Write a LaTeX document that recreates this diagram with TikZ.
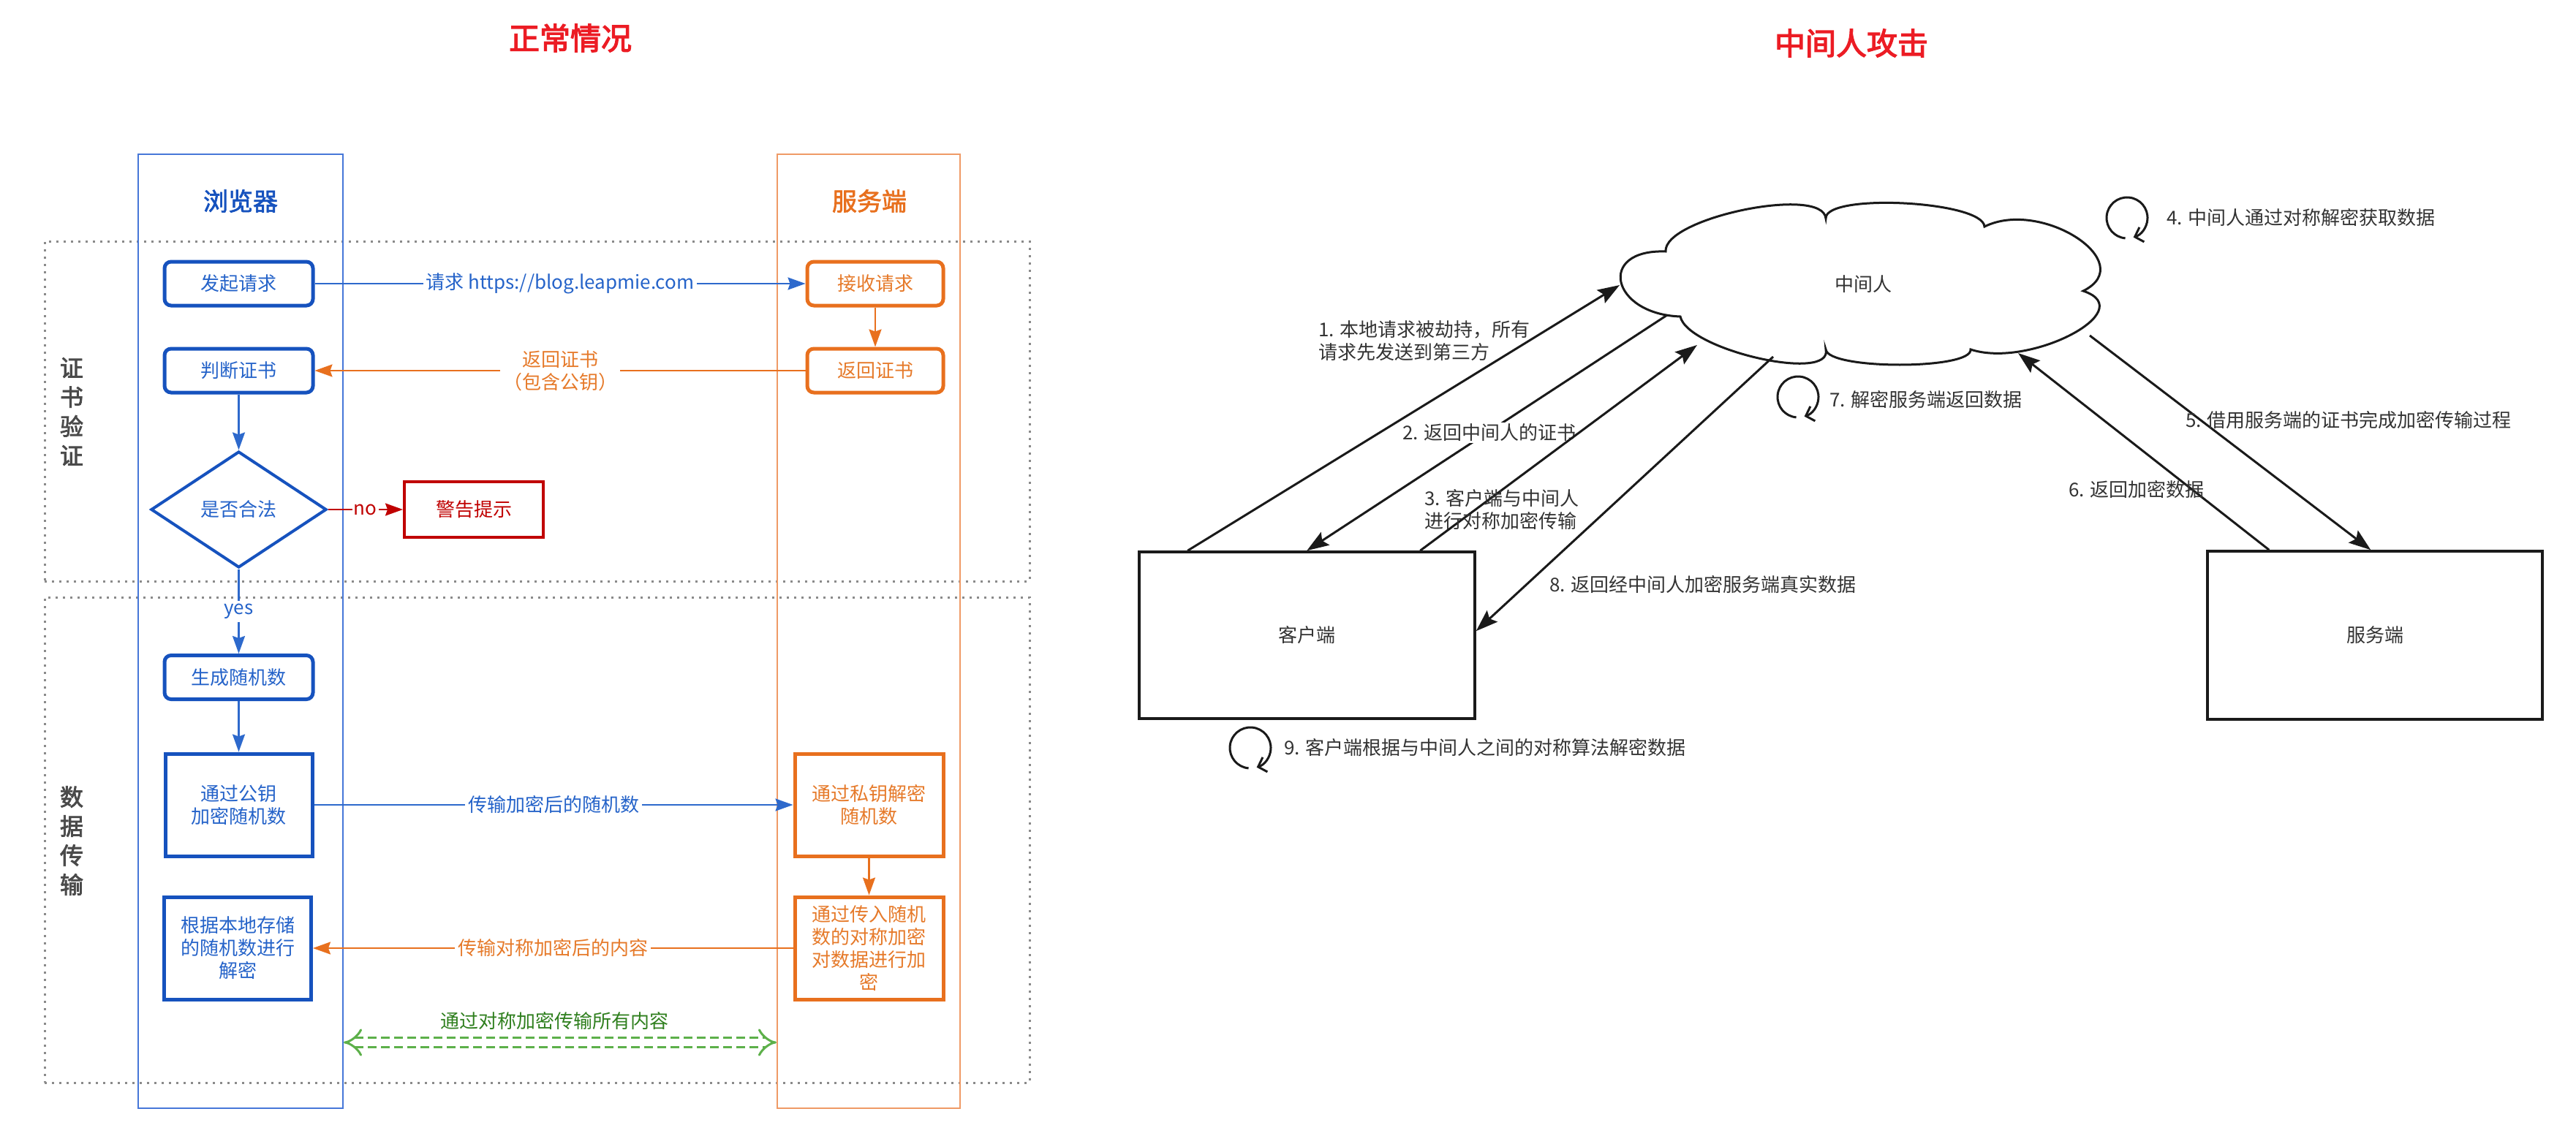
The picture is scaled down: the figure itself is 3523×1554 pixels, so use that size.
\documentclass[tikz,border=0pt]{standalone}
\usepackage{fontspec}
\setmainfont{Noto Sans CJK SC}
\usetikzlibrary{arrows.meta,shapes.geometric,calc}

\definecolor{laneblue}{HTML}{4677D8}
\definecolor{boxblue}{HTML}{1652BE}
\definecolor{txtblue}{HTML}{2563C9}
\definecolor{arrblue}{HTML}{2D69CC}
\definecolor{laneorange}{HTML}{EF9A66}
\definecolor{boxorange}{HTML}{E8701E}
\definecolor{txtorange}{HTML}{E67A2A}
\definecolor{warnred}{HTML}{C00000}
\definecolor{titlered}{HTML}{EC1C24}
\definecolor{sectgray}{HTML}{8A8A8A}
\definecolor{labelgray}{HTML}{4A4A4A}
\definecolor{txtgreen}{HTML}{2F7F1E}
\definecolor{dashgreen}{HTML}{5DB04A}
\definecolor{ink}{HTML}{1A1A1A}
\definecolor{inktext}{HTML}{333333}

\tikzset{
  txt/.style={font=\fontsize{26}{31}\selectfont, inner sep=0pt, align=center},
  bigtitle/.style={font=\fontsize{42}{48}\selectfont\addfontfeatures{FakeBold=3}, text=titlered, inner sep=0pt},
  lanetitle/.style={font=\fontsize{34}{40}\selectfont\addfontfeatures{FakeBold=2}, inner sep=0pt},
  sectlabel/.style={font=\fontsize{32}{40}\selectfont\addfontfeatures{FakeBold=2.5}, text=labelgray, inner sep=0pt, align=center},
  sectionbox/.style={draw=sectgray, line width=3pt, dash pattern=on 3pt off 7pt, rectangle, inner sep=0pt},
  lane/.style={draw=#1, line width=2pt, rectangle, inner sep=0pt},
  rbox/.style={txt, draw=boxblue, text=txtblue, line width=5pt, rounded corners=9pt,
               minimum width=203pt, minimum height=60pt},
  obox/.style={txt, draw=boxorange, text=txtorange, line width=5pt, rounded corners=9pt,
               minimum width=186pt, minimum height=60pt},
  sbox/.style={txt, draw=boxblue, text=txtblue, line width=5pt,
               minimum width=201pt, minimum height=140pt},
  osbox/.style={txt, draw=boxorange, text=txtorange, line width=5pt,
               minimum width=203pt, minimum height=140pt},
  lbl/.style={txt, fill=white, inner sep=4pt},
  bflow/.style={draw=arrblue, line width=2.2pt, -{Stealth[length=24pt,width=17pt,inset=3pt]}},
  oflow/.style={draw=boxorange, line width=2.2pt, -{Stealth[length=24pt,width=17pt,inset=3pt]}},
  rflow/.style={draw=warnred, line width=2.2pt, -{Stealth[length=24pt,width=17pt,inset=3pt]}},
  symarrow/.style={draw=dashgreen, line width=3pt, double=white, double distance=10pt,
               dash pattern=on 12pt off 6pt, {Implies}-{Implies}},
  rnode/.style={txt, text=inktext, draw=ink, line width=3.5pt, rectangle},
  mline/.style={draw=ink, line width=3pt, -{Stealth[length=30pt,width=21pt,inset=5pt]}},
  rlabel/.style={txt, text=inktext, anchor=west, align=left},
  cycle/.style={draw=ink, line width=3pt, -{Straight Barb[length=10pt,width=21pt]}}
}

\begin{document}
\begin{tikzpicture}[x=1pt,y=1pt]
\useasboundingbox (0,0) rectangle (3523,-1554);
\fill[white] (0,0) rectangle (3523,-1554);

% ---------- titles ----------
\node[bigtitle] (tnormal) at (780,-52) {正常情况};
\node[bigtitle] (tattack) at (2532,-59) {中间人攻击};

% ---------- left: HTTPS handshake ----------
\node[sectionbox, minimum width=1347pt, minimum height=465pt] (sec1) at (734.5,-562.5) {};
\node[sectionbox, minimum width=1347pt, minimum height=664pt] (sec2) at (734.5,-1149) {};
\node[sectlabel] (lbl1) at (98,-563) {证\\书\\验\\证};
\node[sectlabel] (lbl2) at (98,-1150) {数\\据\\传\\输};

\node[lane=laneblue, minimum width=280pt, minimum height=1305pt] (blane) at (329,-863.5) {};
\node[lane=laneorange, minimum width=250pt, minimum height=1305pt] (slane) at (1188,-863.5) {};
\node[lanetitle, text=boxblue] (btitle) at (329,-275) {浏览器};
\node[lanetitle, text=boxorange] (stitle) at (1189,-275) {服务端};

\node[rbox] (req) at (326.5,-388) {发起请求};
\node[rbox] (judge) at (326.5,-507) {判断证书};
\node[obox] (recv) at (1197,-388) {接收请求};
\node[obox] (ret) at (1197,-507) {返回证书};
\node[diamond, txt, draw=boxblue, text=txtblue, line width=4pt,
      minimum width=240pt, minimum height=159pt] (legal) at (326.5,-697) {是否合法};
\node[txt, draw=warnred, text=warnred, line width=4pt,
      minimum width=190pt, minimum height=76pt] (warn) at (648,-697) {警告提示};
\node[rbox] (gen) at (326.5,-926.5) {生成随机数};
\node[sbox] (enc) at (326.5,-1101) {通过公钥\\加密随机数};
\node[sbox] (local) at (325,-1297) {根据本地存储\\的随机数进行\\解密};
\node[osbox] (dec) at (1188.5,-1101) {通过私钥解密\\随机数};
\node[osbox] (sym) at (1188.5,-1297) {通过传入随机\\数的对称加密\\对数据进行加\\密};

\draw[bflow] (req) -- node[lbl, text=txtblue] {请求 https://blog.leapmie.com} (recv);
\draw[oflow] (recv) -- (ret);
\draw[oflow] (ret) -- node[lbl, text=txtorange] {返回证书\\（包含公钥）} (judge);
\draw[bflow] (judge) -- (legal);
\draw[rflow] (legal) -- node[lbl, text=warnred, inner sep=2pt] {no} (warn);
\draw[bflow] (legal) -- node[lbl, text=txtblue] {yes} (gen);
\draw[bflow] (gen) -- (enc);
\draw[bflow] (enc) -- node[lbl, text=txtblue] {传输加密后的随机数} (dec);
\draw[oflow] (dec) -- (sym);
\draw[oflow] (sym) -- node[lbl, text=txtorange] {传输对称加密后的内容} (local);

\node[txt, text=txtgreen] (glabel) at (758,-1397) {通过对称加密传输所有内容};
\coordinate (gl) at (blane.east |- 0,-1426);
\coordinate (gr) at (slane.west |- 0,-1426);
\draw[symarrow] (gl) -- (gr);

% ---------- right: man in the middle ----------
\draw[draw=ink, line width=3pt, fill=white]
  (2278,-344) .. controls (2274.7,-298) and (2493.7,-253) .. (2497,-299)
              .. controls (2495,-263.7) and (2712,-274.7) .. (2714,-310)
              .. controls (2792,-271.3) and (2927,-359.3) .. (2849,-398)
              .. controls (2929,-424.7) and (2775,-504.7) .. (2695,-478)
              .. controls (2697.7,-506) and (2499.7,-506) .. (2497,-478)
              .. controls (2507,-524) and (2308,-479) .. (2298,-433)
              .. controls (2203.3,-429.7) and (2183.3,-340.7) .. (2278,-344) -- cycle;
\node[txt, text=inktext] (mitm) at (2548,-389) {中间人};

\node[rnode, minimum width=459pt, minimum height=228pt] (client) at (1787.5,-869) {客户端};
\node[rnode, minimum width=458pt, minimum height=230pt] (server) at (3248,-869) {服务端};

\coordinate (m1) at (2215,-390);
\coordinate (m2) at (2280,-431);
\coordinate (m3) at (2321,-472);
\coordinate (m8) at (2425,-488);
\coordinate (m5) at (2858,-459);
\coordinate (m6) at (2760,-483);
\coordinate (c1) at ($(client.north west)+(68,0)$);
\coordinate (c2) at ($(client.north west)+(231,0)$);
\coordinate (c3) at ($(client.north west)+(386,0)$);
\coordinate (c8) at ($(client.north east)+(0,-110)$);
\coordinate (s5) at ($(server.north west)+(225,0)$);
\coordinate (s6) at ($(server.north west)+(86,0)$);

\draw[mline] (c1) -- (m1);
\draw[mline] (m2) -- (c2);
\node[rlabel, fill=white, inner sep=2pt] (l2) at (1916,-592) {2. 返回中间人的证书};
\draw[mline] (c3) -- (m3);
\draw[mline] (m8) -- (c8);
\draw[mline] (m5) -- (s5);
\draw[mline] (s6) -- (m6);

\node[rlabel] (l1) at (1803,-466.5) {1. 本地请求被劫持，所有\\请求先发送到第三方};
\node[rlabel] (l3) at (1948,-697.5) {3. 客户端与中间人\\进行对称加密传输};
\node[rlabel] (l8) at (2119,-800) {8. 返回经中间人加密服务端真实数据};
\node[rlabel] (l7) at (2502,-547) {7. 解密服务端返回数据};
\node[rlabel] (l4) at (2963,-298) {4. 中间人通过对称解密获取数据};
\node[rlabel] (l5) at (2989,-575) {5. 借用服务端的证书完成加密传输过程};
\node[rlabel] (l6) at (2829,-670) {6. 返回加密数据};
\node[rlabel] (l9) at (1756,-1023) {9. 客户端根据与中间人之间的对称算法解密数据};

% self-processing loops
\coordinate (loop4) at (2909,-298);
\coordinate (loop7) at (2459,-543);
\coordinate (loop9) at (1710,-1023);
\draw[cycle] (loop4) ++(265:28) arc[start angle=265, end angle=-72, radius=28];
\draw[cycle] (loop7) ++(265:28) arc[start angle=265, end angle=-72, radius=28];
\draw[cycle] (loop9) ++(265:28) arc[start angle=265, end angle=-72, radius=28];
\end{tikzpicture}
\end{document}
